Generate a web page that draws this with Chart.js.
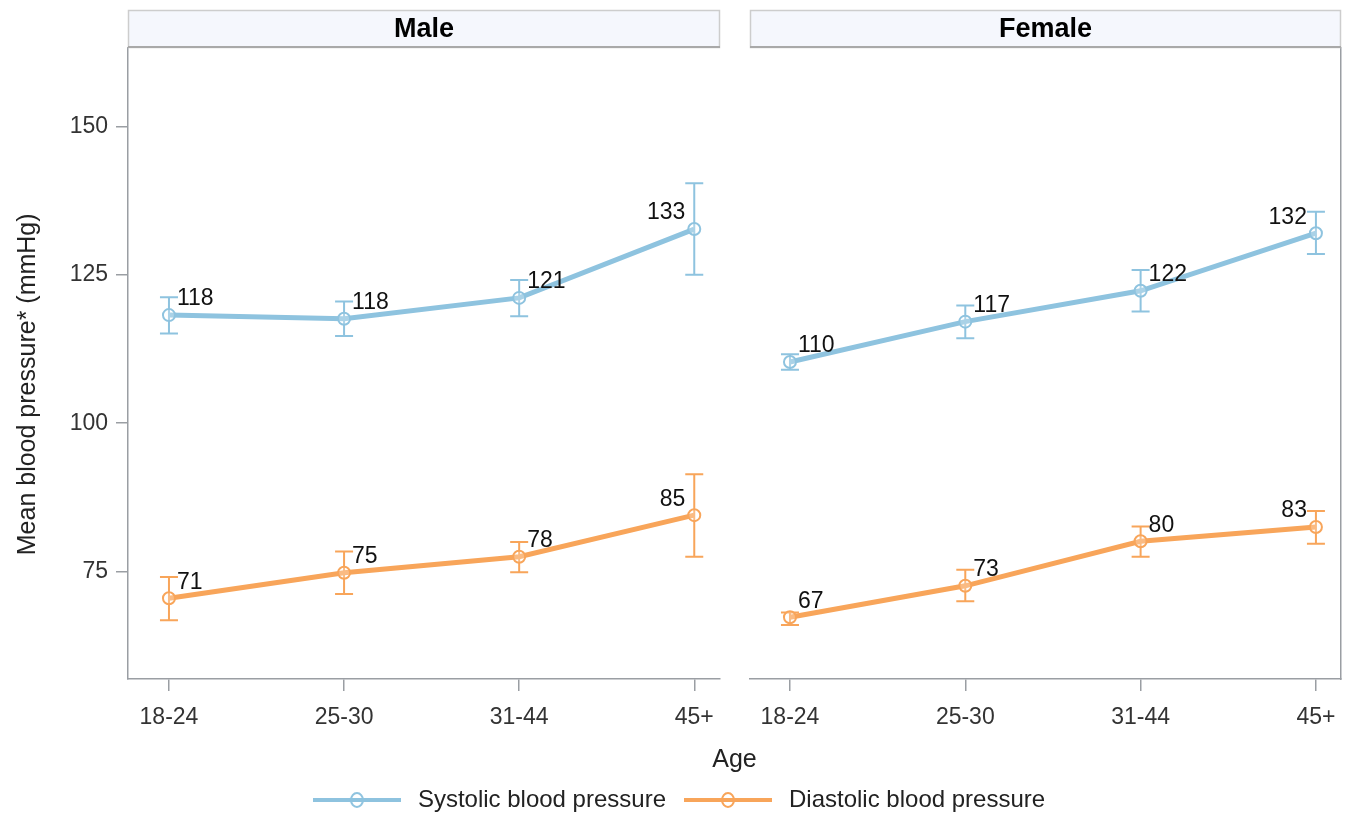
<!DOCTYPE html>
<html>
<head>
<meta charset="utf-8">
<script src="https://cdn.jsdelivr.net/npm/chart.js@4.4.1/dist/chart.umd.min.js"></script>
<style>
  html, body { margin: 0; padding: 0; background: #fff; }
  #wrap { position: relative; width: 1353px; height: 817px; }
</style>
</head>
<body>
<div id="wrap"><canvas id="bp"></canvas></div>
<script>
// ---- data ----
const ageGroups = ['18-24', '25-30', '31-44', '45+'];
const panels = ['Male', 'Female'];
const seriesNames = ['Systolic blood pressure', 'Diastolic blood pressure'];
const yTicks = [75, 100, 125, 150];
const yTitle = 'Mean blood pressure* (mmHg)';
const xTitle = 'Age';

// means with lower / upper interval limits
const maleSystolic       = [118.2, 117.6, 121.1, 132.7];
const maleSystolicLow    = [115.1, 114.7, 118.0, 125.0];
const maleSystolicHigh   = [121.2, 120.5, 124.1, 140.4];
const maleDiastolic      = [70.5, 74.8, 77.5, 84.5];
const maleDiastolicLow   = [66.8, 71.2, 74.9, 77.5];
const maleDiastolicHigh  = [74.1, 78.4, 80.0, 91.4];
const femaleSystolic     = [110.3, 117.1, 122.3, 132.0];
const femaleSystolicLow  = [109.0, 114.3, 118.8, 128.5];
const femaleSystolicHigh = [111.6, 119.8, 125.8, 135.6];
const femaleDiastolic    = [67.3, 72.6, 80.1, 82.5];
const femaleDiastolicLow = [66.0, 70.0, 77.5, 79.7];
const femaleDiastolicHigh= [68.1, 75.3, 82.6, 85.2];

// ---- styling ----
const FONT = "'Liberation Sans', Arial, Helvetica, sans-serif";
const SYS = '#8EC3DF';
const DIA = '#F8A55A';
const FRAME = '#9A9EA3';
Chart.defaults.font.family = FONT;

function series(label, values, low, high, color, xAxis) {
  return {
    label,
    data: values.map((v, i) => ({ x: i, y: v })),
    low, high,
    xAxisID: xAxis, yAxisID: 'y',
    borderColor: color,
    backgroundColor: color,
    borderWidth: 5,
    pointRadius: 6,
    pointBorderWidth: 2,
    pointBorderColor: color,
    pointBackgroundColor: 'rgba(255,255,255,0.25)',
    tension: 0
  };
}

const datasets = [
  series(seriesNames[0], maleSystolic, maleSystolicLow, maleSystolicHigh, SYS, 'xm'),
  series(seriesNames[1], maleDiastolic, maleDiastolicLow, maleDiastolicHigh, DIA, 'xm'),
  series(seriesNames[0], femaleSystolic, femaleSystolicLow, femaleSystolicHigh, SYS, 'xf'),
  series(seriesNames[1], femaleDiastolic, femaleDiastolicLow, femaleDiastolicHigh, DIA, 'xf')
];

// interval whiskers with caps, drawn under the lines
const errorBars = {
  id: 'errorBars',
  beforeDatasetsDraw(chart) {
    const ctx = chart.ctx;
    chart.data.datasets.forEach(ds => {
      const xs = chart.scales[ds.xAxisID];
      const ys = chart.scales[ds.yAxisID];
      ctx.save();
      ctx.strokeStyle = ds.borderColor;
      ctx.lineWidth = 2;
      ds.data.forEach((p, i) => {
        const x = xs.getPixelForValue(p.x);
        const lo = ys.getPixelForValue(ds.low[i]);
        const hi = ys.getPixelForValue(ds.high[i]);
        const cap = 9;
        ctx.beginPath();
        ctx.moveTo(x, lo); ctx.lineTo(x, hi);
        ctx.moveTo(x - cap, lo); ctx.lineTo(x + cap, lo);
        ctx.moveTo(x - cap, hi); ctx.lineTo(x + cap, hi);
        ctx.stroke();
      });
      ctx.restore();
    });
  }
};

// rounded mean printed beside each marker
const valueLabels = {
  id: 'valueLabels',
  afterDatasetsDraw(chart) {
    const ctx = chart.ctx;
    ctx.save();
    ctx.font = '23px ' + FONT;
    ctx.fillStyle = '#111';
    ctx.textBaseline = 'middle';
    chart.data.datasets.forEach((ds, di) => {
      const meta = chart.getDatasetMeta(di);
      meta.data.forEach((pt, i) => {
        const last = i === ds.data.length - 1;
        ctx.textAlign = last ? 'right' : 'left';
        ctx.fillText(String(Math.round(ds.data[i].y)), pt.x + (last ? -9 : 8), pt.y - 16);
      });
    });
    ctx.restore();
  }
};

// strip above each panel holding its name
const panelHeaders = {
  id: 'panelHeaders',
  afterDraw(chart) {
    const ctx = chart.ctx;
    const top = 10;
    const bottom = chart.chartArea.top;
    [['xm', panels[0]], ['xf', panels[1]]].forEach(([id, name]) => {
      const s = chart.scales[id];
      const l = Math.round(s.left), r = Math.round(s.right);
      ctx.save();
      ctx.fillStyle = '#F5F7FD';
      ctx.fillRect(l, top, r - l, bottom - top);
      ctx.strokeStyle = '#CDCDCD';
      ctx.lineWidth = 1.5;
      ctx.strokeRect(l + 0.5, top + 0.5, r - l - 1, bottom - top - 1);
      ctx.strokeStyle = '#A9A9A9';
      ctx.lineWidth = 2;
      ctx.beginPath();
      ctx.moveTo(l, bottom - 1); ctx.lineTo(r, bottom - 1);
      ctx.stroke();
      ctx.fillStyle = '#000';
      ctx.font = 'bold 27px ' + FONT;
      ctx.textAlign = 'center';
      ctx.textBaseline = 'middle';
      ctx.fillText(name, (l + r) / 2, (top + bottom) / 2 + 1);
      ctx.restore();
    });
  }
};

function swatch(color) {
  const c = document.createElement('canvas');
  c.width = 88; c.height = 18;
  const g = c.getContext('2d');
  g.strokeStyle = color;
  g.lineWidth = 4;
  g.beginPath(); g.moveTo(0, 9); g.lineTo(88, 9); g.stroke();
  g.lineWidth = 2;
  g.beginPath(); g.ellipse(44, 9, 6, 7, 0, 0, Math.PI * 2); g.stroke();
  return c;
}

const tickFont = { size: 23 };
const ageTicks = s => { s.ticks = ageGroups.map((_, i) => ({ value: i })); };
const axisGrid = { drawOnChartArea: false, tickLength: 12, color: FRAME, lineWidth: 1.5 };
const axisBorder = { color: FRAME, width: 1.5 };
// fixed band heights / widths, no extra edge padding from tick labels
const fitX = s => { s.height = 62; s.paddingLeft = 0; s.paddingRight = 0; };
const fitY = w => s => { s.width = w; s.paddingTop = 0; s.paddingBottom = 0; };

new Chart(document.getElementById('bp'), {
  type: 'line',
  data: { datasets },
  options: {
    responsive: true,
    maintainAspectRatio: false,
    animation: false,
    layout: { padding: { top: 48, right: 0, bottom: 4, left: 0 } },
    scales: {
      y: {
        type: 'linear', position: 'left', min: 56.9, max: 163.2,
        afterBuildTicks: s => { s.ticks = yTicks.map(v => ({ value: v })); },
        afterFit: fitY(128),
        ticks: { font: tickFont, color: '#333', padding: 8 },
        grid: axisGrid,
        border: axisBorder,
        // trailing spaces nudge the centred title down along the axis
        title: { display: true, text: yTitle + ' '.repeat(6), font: { size: 25 }, color: '#222', padding: { top: 13, bottom: 0 } }
      },
      y2: {
        type: 'linear', position: 'right', min: 56.9, max: 163.2,
        ticks: { display: false },
        grid: { display: false },
        border: axisBorder,
        afterFit: fitY(12)
      },
      xm: {
        type: 'linear', position: 'bottom', stack: 'panels', stackWeight: 592,
        min: -0.234, max: 3.147,
        afterBuildTicks: ageTicks,
        afterFit: fitX,
        ticks: { font: tickFont, color: '#333', padding: 13, maxRotation: 0, autoSkip: false, callback: v => ageGroups[v] },
        grid: axisGrid,
        border: axisBorder
      },
      xg: {
        type: 'linear', position: 'bottom', stack: 'panels', stackWeight: 30,
        min: 0, max: 1,
        afterFit: fitX,
        ticks: { display: false },
        grid: { display: false },
        border: { display: false }
      },
      xf: {
        type: 'linear', position: 'bottom', stack: 'panels', stackWeight: 591,
        min: -0.228, max: 3.143,
        afterBuildTicks: ageTicks,
        afterFit: fitX,
        ticks: { font: tickFont, color: '#333', padding: 13, maxRotation: 0, autoSkip: false, callback: v => ageGroups[v] },
        grid: axisGrid,
        border: axisBorder
      }
    },
    plugins: {
      tooltip: { enabled: false },
      title: {
        display: true, text: xTitle, position: 'bottom', fullSize: false, weight: 500,
        font: { size: 25, weight: 'normal' }, color: '#222', padding: { top: 4, bottom: 0 }
      },
      legend: {
        position: 'bottom',
        maxHeight: 38,
        labels: {
          usePointStyle: true,
          pointStyleWidth: 98,
          font: { size: 24 },
          color: '#222',
          padding: 13,
          generateLabels: chart => chart.data.datasets.slice(0, 2).map((ds, i) => ({
            text: ds.label,
            pointStyle: swatch(ds.borderColor),
            datasetIndex: i,
            fontColor: '#222',
            lineWidth: 0,
            strokeStyle: 'rgba(0,0,0,0)',
            fillStyle: 'rgba(0,0,0,0)',
            hidden: false
          }))
        }
      }
    }
  },
  plugins: [errorBars, valueLabels, panelHeaders]
});
</script>
</body>
</html>
